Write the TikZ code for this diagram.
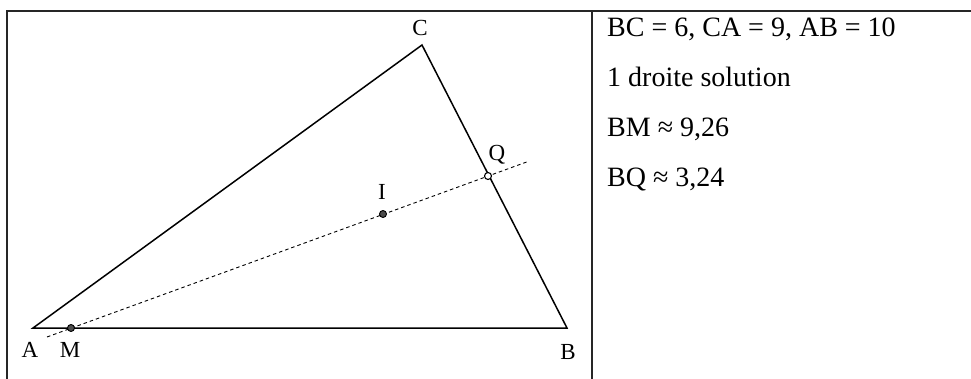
\documentclass[tikz,border=0pt]{standalone}
\usepackage{fontspec}
\setmainfont{Liberation Serif}
\begin{document}
\begin{tikzpicture}[x=1pt,y=-1pt,
  frame/.style={line width=1.4pt,black!85},
  side/.style={line width=1.5pt},
  cut/.style={line width=0.9pt,dash pattern=on 3.5pt off 3pt},
  fdot/.style={circle,draw,fill=black!70,inner sep=0pt,minimum size=7pt,line width=0.9pt},
  odot/.style={circle,draw,fill=white,inner sep=0pt,minimum size=7pt,line width=1.1pt},
  lab/.style={font=\fontsize{23}{27}\selectfont,inner sep=0pt},
  txt/.style={font=\fontsize{28}{34}\selectfont,inner sep=0pt,anchor=base west}]
\useasboundingbox (0,0) rectangle (971,379);
% frame
\coordinate (f0) at (7,379);
\coordinate (f1) at (7,11);
\coordinate (f2) at (971,11);
\coordinate (d0) at (592,11);
\coordinate (d1) at (592,379);
\draw[frame] (f0) -- (f1) -- (f2);
\draw[frame] (d0) -- (d1);
% triangle
\coordinate (A) at (33,328);
\coordinate (B) at (567,328);
\coordinate (C) at (422,45);
\draw[side,line join=miter] (A) -- (B) -- (C) -- cycle;
% cutting line
\coordinate (L0) at (47,337);
\coordinate (L1) at (528,161.5);
\draw[cut] (L0) -- (L1);
\node[fdot] (M) at (71,328) {};
\node[fdot] (I) at (383,214) {};
\node[odot] (Q) at (488,176) {};
% labels
\node[lab] (lA) at (30,350) {A};
\node[lab] (lM) at (70,350) {M};
\node[lab] (lB) at (568,352) {B};
\node[lab] (lC) at (420,28) {C};
\node[lab] (lI) at (382,192) {I};
\node[lab] (lQ) at (497,155) {Q};
% text
\node[txt] (t1) at (607,37) {BC = 6, CA = 9, AB = 10};
\node[txt] (t2) at (607,87) {1 droite solution};
\node[txt] (t3) at (607,137) {BM ≈ 9,26};
\node[txt] (t4) at (607,187) {BQ ≈ 3,24};
\end{tikzpicture}
\end{document}
